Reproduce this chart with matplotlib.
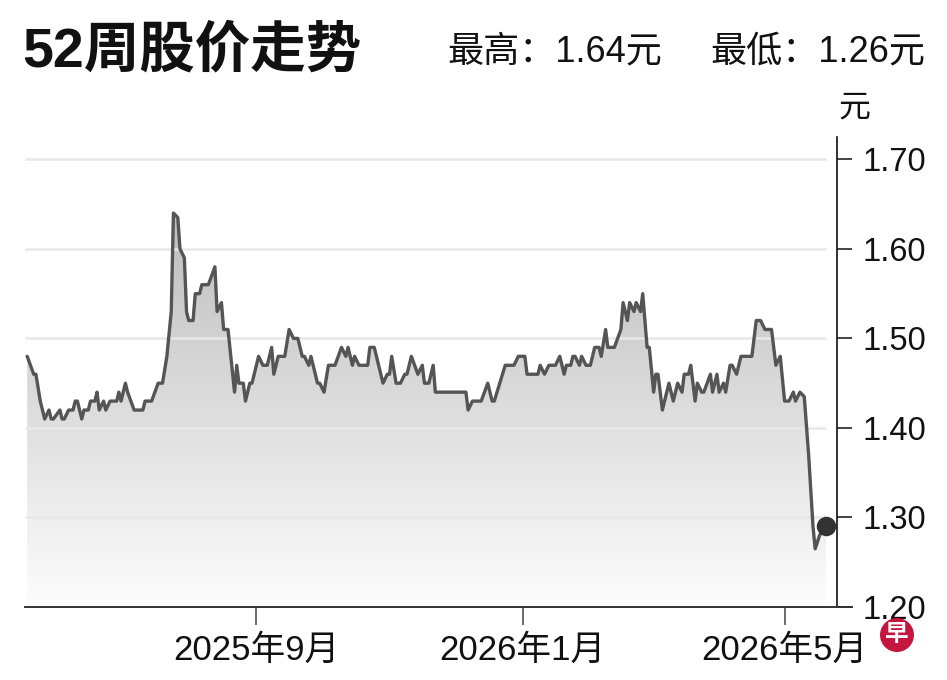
import numpy as np
import pandas as pd
import matplotlib
matplotlib.use("Agg")
import matplotlib.pyplot as plt
import matplotlib.dates as mdates
from matplotlib import font_manager
from matplotlib.colors import LinearSegmentedColormap
from matplotlib.patches import Circle

# closing prices (SGD)
trade_dates = [
    "2025-05-19", "2025-05-22", "2025-05-23", "2025-05-25", "2025-05-27", "2025-05-29",
    "2025-05-30", "2025-05-31", "2025-06-03", "2025-06-04", "2025-06-05", "2025-06-07",
    "2025-06-09", "2025-06-10", "2025-06-11", "2025-06-13", "2025-06-14", "2025-06-16",
    "2025-06-17", "2025-06-19", "2025-06-20", "2025-06-21", "2025-06-23", "2025-06-24",
    "2025-06-26", "2025-06-29", "2025-06-30", "2025-07-01", "2025-07-03", "2025-07-04",
    "2025-07-07", "2025-07-11", "2025-07-12", "2025-07-15", "2025-07-18", "2025-07-20",
    "2025-07-22", "2025-07-24", "2025-07-25", "2025-07-27", "2025-07-28", "2025-07-30",
    "2025-07-31", "2025-08-01", "2025-08-03", "2025-08-04", "2025-08-06", "2025-08-07",
    "2025-08-10", "2025-08-13", "2025-08-14", "2025-08-16", "2025-08-17", "2025-08-19",
    "2025-08-22", "2025-08-23", "2025-08-24", "2025-08-26", "2025-08-27", "2025-08-29",
    "2025-08-30", "2025-09-02", "2025-09-04", "2025-09-06", "2025-09-08", "2025-09-09",
    "2025-09-11", "2025-09-14", "2025-09-16", "2025-09-18", "2025-09-20", "2025-09-22",
    "2025-09-23", "2025-09-25", "2025-09-26", "2025-09-29", "2025-09-30", "2025-10-02",
    "2025-10-04", "2025-10-07", "2025-10-10", "2025-10-12", "2025-10-13", "2025-10-15",
    "2025-10-16", "2025-10-18", "2025-10-22", "2025-10-23", "2025-10-25", "2025-10-27",
    "2025-10-29", "2025-10-31", "2025-11-01", "2025-11-02", "2025-11-04", "2025-11-06",
    "2025-11-08", "2025-11-09", "2025-11-11", "2025-11-14", "2025-11-16", "2025-11-17",
    "2025-11-19", "2025-11-21", "2025-11-22", "2025-12-06", "2025-12-07", "2025-12-09",
    "2025-12-13", "2025-12-16", "2025-12-18", "2025-12-19", "2025-12-24", "2025-12-28",
    "2025-12-30", "2026-01-02", "2026-01-03", "2026-01-08", "2026-01-09", "2026-01-11",
    "2026-01-13", "2026-01-16", "2026-01-18", "2026-01-20", "2026-01-21", "2026-01-23",
    "2026-01-24", "2026-01-25", "2026-01-27", "2026-01-28", "2026-01-30", "2026-02-01",
    "2026-02-03", "2026-02-05", "2026-02-06", "2026-02-08", "2026-02-09", "2026-02-12",
    "2026-02-15", "2026-02-16", "2026-02-18", "2026-02-19", "2026-02-21", "2026-02-22",
    "2026-02-24", "2026-02-25", "2026-02-27", "2026-02-28", "2026-03-02", "2026-03-03",
    "2026-03-04", "2026-03-06", "2026-03-09", "2026-03-11", "2026-03-13", "2026-03-15",
    "2026-03-16", "2026-03-18", "2026-03-19", "2026-03-21", "2026-03-22", "2026-03-24",
    "2026-03-25", "2026-03-28", "2026-03-29", "2026-03-31", "2026-04-01", "2026-04-03",
    "2026-04-04", "2026-04-06", "2026-04-07", "2026-04-09", "2026-04-11", "2026-04-16",
    "2026-04-18", "2026-04-20", "2026-04-22", "2026-04-25", "2026-04-27", "2026-04-29",
    "2026-05-01", "2026-05-03", "2026-05-05", "2026-05-06", "2026-05-08", "2026-05-10",
    "2026-05-12", "2026-05-14", "2026-05-15", "2026-05-17", "2026-05-20",
]
close_prices = [
    1.48, 1.46, 1.46, 1.43, 1.41, 1.42,
    1.41, 1.41, 1.42, 1.41, 1.41, 1.42,
    1.42, 1.43, 1.43, 1.41, 1.42, 1.42,
    1.43, 1.43, 1.44, 1.42, 1.43, 1.42,
    1.43, 1.43, 1.44, 1.43, 1.45, 1.44,
    1.42, 1.42, 1.43, 1.43, 1.45, 1.45,
    1.48, 1.53, 1.64, 1.635, 1.60, 1.59,
    1.53, 1.52, 1.52, 1.55, 1.55, 1.56,
    1.56, 1.58, 1.53, 1.54, 1.51, 1.51,
    1.44, 1.47, 1.45, 1.45, 1.43, 1.45,
    1.45, 1.48, 1.47, 1.47, 1.49, 1.46,
    1.48, 1.48, 1.51, 1.50, 1.50, 1.48,
    1.48, 1.47, 1.48, 1.45, 1.45, 1.44,
    1.47, 1.47, 1.49, 1.48, 1.49, 1.47,
    1.48, 1.47, 1.47, 1.49, 1.49, 1.47,
    1.45, 1.46, 1.46, 1.48, 1.45, 1.45,
    1.46, 1.46, 1.48, 1.46, 1.47, 1.45,
    1.45, 1.47, 1.44, 1.44, 1.42, 1.43,
    1.43, 1.45, 1.43, 1.43, 1.47, 1.47,
    1.48, 1.48, 1.46, 1.46, 1.47, 1.46,
    1.47, 1.47, 1.48, 1.46, 1.47, 1.47,
    1.48, 1.48, 1.47, 1.48, 1.47, 1.47,
    1.49, 1.49, 1.48, 1.51, 1.49, 1.49,
    1.51, 1.54, 1.52, 1.54, 1.53, 1.54,
    1.53, 1.55, 1.49, 1.49, 1.44, 1.46,
    1.46, 1.42, 1.45, 1.43, 1.45, 1.44,
    1.46, 1.46, 1.47, 1.43, 1.45, 1.44,
    1.44, 1.46, 1.44, 1.46, 1.44, 1.45,
    1.44, 1.47, 1.47, 1.46, 1.48, 1.48,
    1.52, 1.52, 1.51, 1.51, 1.47, 1.48,
    1.43, 1.43, 1.44, 1.43, 1.44, 1.435,
    1.37, 1.29, 1.265, 1.28, 1.29,
]

y_ticks = [1.20, 1.30, 1.40, 1.50, 1.60, 1.70]
x_ticks = ["2025-09-01", "2026-01-01", "2026-05-01"]
x_tick_labels = ["2025年9月", "2026年1月", "2026年5月"]
title = "52周股价走势"
high_text = "最高：1.64元"
low_text = "最低：1.26元"

names = {f.name for f in font_manager.fontManager.ttflist}
num_font = "Liberation Sans Narrow" if "Liberation Sans Narrow" in names else "Liberation Sans"
plt.rcParams["font.family"] = [num_font, "Noto Sans CJK SC", "DejaVu Sans"]

fig = plt.figure(figsize=(9.47, 6.80), dpi=100)
ax = fig.add_axes([25 / 947, 73 / 680, 812 / 947, 470 / 680])

x = mdates.date2num(pd.to_datetime(trade_dates))
y = np.array(close_prices)
x0 = mdates.date2num(pd.Timestamp("2025-05-18"))
x1 = mdates.date2num(pd.Timestamp("2026-05-25"))

# gradient area under the line
poly = ax.fill_between(x, y, 1.20, facecolor="none", edgecolor="none")
cmap = LinearSegmentedColormap.from_list("g", ["#fdfdfd", "#bcbcbc"])
grad = np.linspace(0, 1, 256).reshape(-1, 1)
img = ax.imshow(grad, extent=[x0, x1, 1.20, 1.65], origin="lower", aspect="auto",
                cmap=cmap, zorder=1, interpolation="bilinear")
img.set_clip_path(poly.get_paths()[0], transform=ax.transData)

for t in y_ticks[1:]:
    ax.hlines(t, x0, x[-1], color="#e8e8e8", lw=1.8, zorder=2)

ax.plot(x, y, color="#555555", lw=2.4, zorder=3, solid_joinstyle="round",
        solid_capstyle="round")
ax.plot(x[-1], y[-1], "o", color="#333333", ms=13, zorder=4)

ax.set_xlim(x0, x1)
ax.set_ylim(1.20, 1.725)

for s in ["left", "top", "bottom"]:
    ax.spines[s].set_visible(False)
ax.spines["right"].set_color("#111111")
ax.spines["right"].set_linewidth(1.2)
ax.axhline(1.20, xmin=0, xmax=(852 - 25) / 812, color="#333333", lw=1.4,
           clip_on=False, zorder=5)

ax.yaxis.tick_right()
ax.set_yticks(y_ticks)
ax.set_yticklabels([f"{v:.2f}" for v in y_ticks])
ax.tick_params(axis="y", direction="out", length=11, width=1.1, color="#111111",
               pad=7, labelsize=23.5, labelcolor="#111111")

ax.set_xticks(mdates.date2num(pd.to_datetime(x_ticks)))
ax.set_xticklabels(x_tick_labels)
ax.tick_params(axis="x", direction="out", length=13, width=1.1, color="#444444",
               pad=6, labelsize=25, labelcolor="#111111")

fig.text(838 / 947, 1 - 108 / 680, "元", fontsize=23, va="center", ha="left",
         family=["Noto Sans CJK SC"], color="#111111")

fig.text(22 / 947, 1 - 52 / 680, title, fontsize=40, fontweight="black", va="center",
         ha="left", family=["Liberation Sans", "Noto Sans CJK SC"], color="#111111")
fig.text(447 / 947, 1 - 52 / 680, high_text, fontsize=26, va="center", ha="left",
         family=[num_font, "Noto Sans CJK SC"], color="#111111")
fig.text(925 / 947, 1 - 52 / 680, low_text, fontsize=26, va="center", ha="right",
         family=[num_font, "Noto Sans CJK SC"], color="#111111")

# logo, placed in inches so the circle stays round
fig.patches.append(Circle((8.97, 6.80 - 6.35), 0.17, transform=fig.dpi_scale_trans,
                          facecolor="#c3173f", edgecolor="none", zorder=10))
fig.text(897 / 947, 1 - 634 / 680, "早", fontsize=17, fontweight="bold", color="white",
         ha="center", va="center", family=["Noto Sans CJK SC"], zorder=11)

fig.savefig("out.png", dpi=100, facecolor="white")
